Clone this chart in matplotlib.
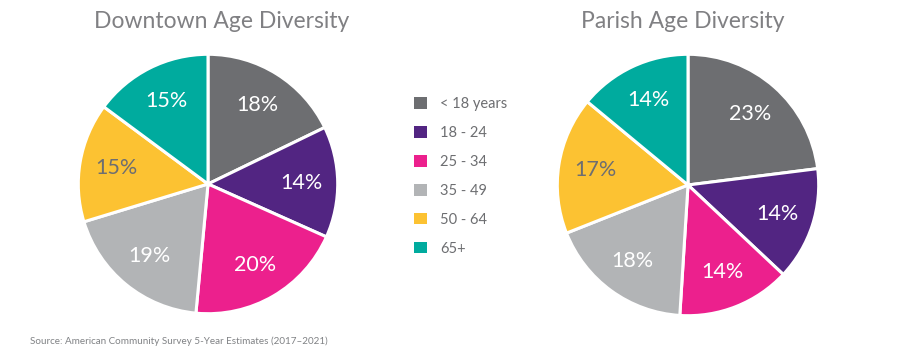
import matplotlib.pyplot as plt
from matplotlib.patches import Patch

plt.rcParams['font.family'] = ['Lato', 'DejaVu Sans']

# age groups and shares (%)
groups = ['< 18 years', '18 - 24', '25 - 34', '35 - 49', '50 - 64', '65+']
downtown = [18, 14, 20, 19, 15, 15]
parish = [23, 14, 14, 18, 17, 14]
colors = ['#6d6e71', '#522582', '#ec208d', '#b2b4b6', '#fcc232', '#00ab9e']
text_colors = ['white', 'white', 'white', 'white', '#6d6e71', 'white']

W, H = 907, 359
fig = plt.figure(figsize=(W / 100, H / 100), dpi=100)


def pie_axes(cx, cy, r):
    return fig.add_axes([(cx - r) / W, (H - cy - r) / H, 2 * r / W, 2 * r / H])


def draw_pie(ax, values):
    wedges, texts = ax.pie(
        values, colors=colors, startangle=90, counterclock=False,
        labels=['%d%%' % v for v in values], labeldistance=0.72,
        wedgeprops=dict(edgecolor='white', linewidth=2.2),
        textprops=dict(fontsize=15.5, ha='center', va='center'))
    for t, c in zip(texts, text_colors):
        t.set_color(c)
    ax.set_aspect('equal')
    ax.set_xlim(-1.01, 1.01)
    ax.set_ylim(-1.01, 1.01)


ax1 = pie_axes(208, 184, 131)
draw_pie(ax1, downtown)
ax2 = pie_axes(688, 185, 132)
draw_pie(ax2, parish)

fig.text(222 / W, 1 - 21 / H, 'Downtown Age Diversity', fontsize=16.5, color='#808083',
         ha='center', va='center')
fig.text(683 / W, 1 - 21 / H, 'Parish Age Diversity', fontsize=16.5, color='#808083',
         ha='center', va='center')

handles = [Patch(facecolor=c, edgecolor='none') for c in colors]
leg = fig.legend(handles, groups, loc='upper left', bbox_to_anchor=(401 / W, 1 - 84 / H),
                 frameon=False, fontsize=10.5, handlelength=0.85, handleheight=0.85,
                 handletextpad=0.95, labelspacing=1.02)
for t in leg.get_texts():
    t.set_color('#6d6e71')

fig.text(30 / W, 1 - 341 / H, 'Source: American Community Survey 5-Year Estimates (2017\u20132021)',
         fontsize=7.1, color='#808285', va='center')

fig.savefig('out.png', dpi=100)
